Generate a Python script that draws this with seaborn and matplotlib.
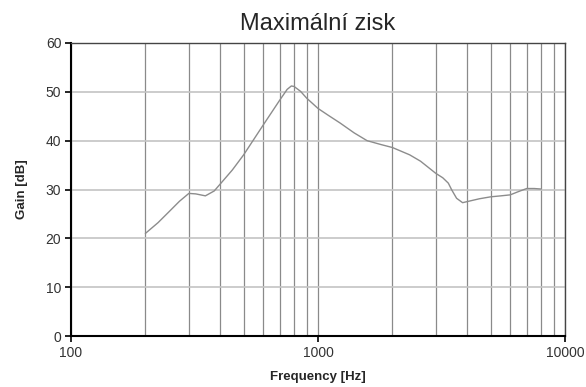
import matplotlib
matplotlib.use("Agg")
import matplotlib.pyplot as plt
import seaborn as sns
import pandas as pd
from matplotlib.ticker import FixedLocator, NullFormatter, FixedFormatter

freq = [200, 225, 250, 275, 300, 320, 350, 380, 400, 450, 500, 600, 700, 750, 780,
        800, 850, 900, 1000, 1100, 1230, 1400, 1580, 1800, 2000, 2350, 2600, 3000,
        3200, 3370, 3480, 3640, 3850, 4000, 4500, 5000, 5500, 6000, 6500, 7000, 7500, 8000]
gain = [21.0, 23.2, 25.5, 27.6, 29.2, 29.1, 28.7, 29.7, 31.0, 34.0, 37.1, 43.2, 48.3, 50.5, 51.2,
        51.1, 50.1, 48.7, 46.6, 45.2, 43.6, 41.6, 40.0, 39.2, 38.6, 37.1, 35.8, 33.3,
        32.4, 31.3, 29.9, 28.2, 27.3, 27.5, 28.1, 28.5, 28.7, 28.9, 29.6, 30.2, 30.2, 30.1]
x_major = [100, 1000, 10000]
x_labels = ["100", "1000", "10000"]
y_ticks = [0, 10, 20, 30, 40, 50, 60]
title = "Maximální zisk"
xlabel = "Frequency [Hz]"
ylabel = "Gain [dB]"

df = pd.DataFrame({"freq": freq, "gain": gain})

sns.set_style("white")
plt.rcParams["font.family"] = ["Liberation Sans", "DejaVu Sans"]

fig = plt.figure(figsize=(5.86, 3.87), dpi=100)
ax = fig.add_axes([71/586, 1 - 336/387, (565-71)/586, (336-43)/387])

sns.lineplot(data=df, x="freq", y="gain", ax=ax, color="#8c8c8c", linewidth=1.0, zorder=3)

ax.set_xscale("log")
ax.set_xlim(100, 10000)
ax.set_ylim(0, 60)

minor = [m * d for d in (100, 1000) for m in range(2, 10)]
ax.xaxis.set_major_locator(FixedLocator(x_major))
ax.xaxis.set_major_formatter(FixedFormatter(x_labels))
ax.xaxis.set_minor_locator(FixedLocator(minor))
ax.xaxis.set_minor_formatter(NullFormatter())
ax.set_yticks(y_ticks)

ax.grid(True, axis="x", which="both", color="#8a8a8a", linewidth=0.9, zorder=1)
ax.grid(True, axis="y", which="major", color="#c4c4c4", linewidth=1.2, zorder=1)
ax.set_axisbelow(True)

ax.tick_params(axis="both", which="major", direction="out", length=4, width=1.2,
               color="black", labelsize=10, labelcolor="#333333", pad=3,
               bottom=True, left=True)
ax.tick_params(axis="x", which="minor", length=0)

for s in ("left", "bottom"):
    ax.spines[s].set_color("black")
    ax.spines[s].set_linewidth(1.5)
for s in ("top", "right"):
    ax.spines[s].set_color("#444444")
    ax.spines[s].set_linewidth(1.0)
    ax.spines[s].set_visible(True)

ax.set_xlabel(xlabel, fontsize=9.5, fontweight="bold", labelpad=8)
ax.set_ylabel(ylabel, fontsize=9.5, fontweight="bold", labelpad=13)
ax.set_title(title, fontsize=17, pad=9)

fig.savefig("out.png", dpi=100)
